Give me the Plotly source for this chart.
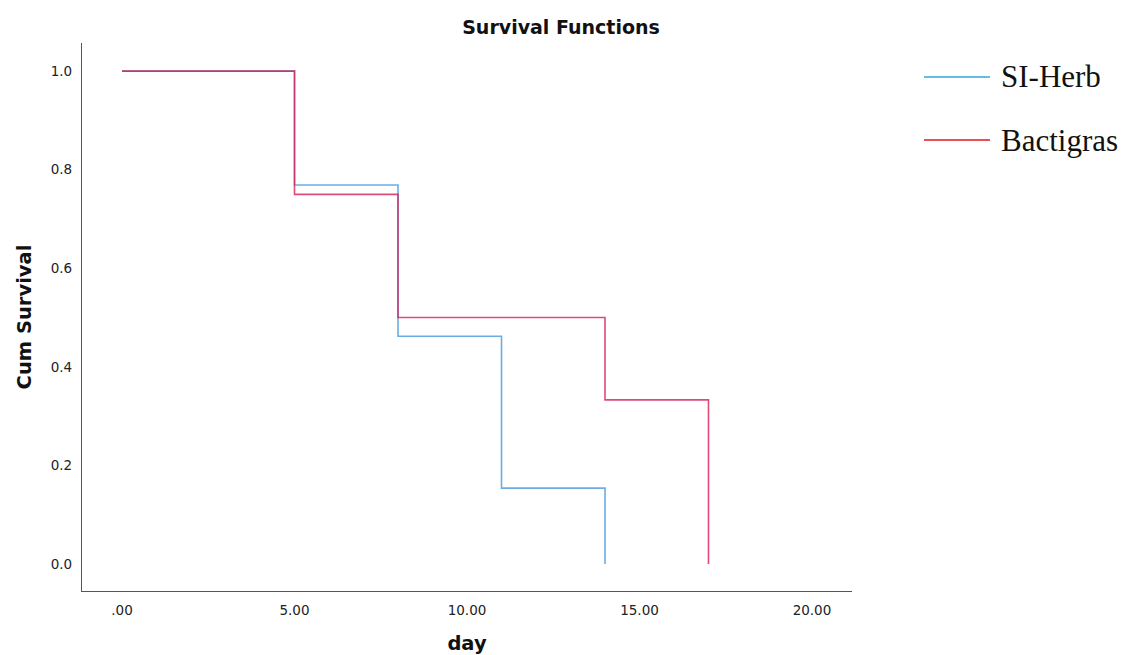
import plotly.graph_objects as go

# Data
herb_days = [0, 5, 8, 11, 14]
herb_surv = [1.0, 0.769, 0.462, 0.154, 0.0]
bact_days = [0, 5, 8, 14, 17]
bact_surv = [1.0, 0.75, 0.5, 0.333, 0.0]
series_names = ["SI-Herb", "Bactigras"]
x_ticks = [0, 5, 10, 15, 20]
x_tick_text = [".00", "5.00", "10.00", "15.00", "20.00"]
y_ticks = [0, 0.2, 0.4, 0.6, 0.8, 1.0]
y_tick_text = ["0.0", "0.2", "0.4", "0.6", "0.8", "1.0"]

W, H = 1122, 655
L, R, T, B = 82, 270, 43, 64

fig = go.Figure()
fig.add_trace(go.Scatter(x=herb_days, y=herb_surv, mode="lines", line_shape="hv",
                         line=dict(color="#5AA5E2", width=1.6), opacity=0.9,
                         name=series_names[0], showlegend=False))
fig.add_trace(go.Scatter(x=bact_days, y=bact_surv, mode="lines", line_shape="hv",
                         line=dict(color="#D81E55", width=1.6), opacity=0.8,
                         name=series_names[1], showlegend=False))

tick_font = dict(family="DejaVu Sans", size=13.5, color="#222")
axis_title_font = dict(family="DejaVu Sans", size=19.5, color="#111")
fig.update_xaxes(range=[-1.16, 21.16], tickvals=x_ticks, ticktext=x_tick_text,
                 showgrid=False, zeroline=False, showline=True, linecolor="#555",
                 linewidth=1.3, ticks="", tickfont=tick_font, ticklabelstandoff=7,
                 automargin=False,
                 title=dict(text="<b>day</b>", font=axis_title_font, standoff=24))
fig.update_yaxes(range=[-0.0547, 1.057], tickvals=y_ticks, ticktext=y_tick_text,
                 showgrid=False, zeroline=False, showline=True, linecolor="#555",
                 linewidth=1.3, ticks="", tickfont=tick_font, ticklabelstandoff=6,
                 automargin=False,
                 title=dict(text="<b>Cum Survival</b>", font=axis_title_font, standoff=13))

# Legend drawn as line shapes + text (matches the pasted legend of the reference)
legend_items = [(series_names[0], "#30A8D6", 77), (series_names[1], "#E3141E", 140)]
pw, ph = W - L - R, H - T - B
for name, col, ypx in legend_items:
    yd = (H - B - ypx) / ph
    fig.add_shape(type="line", xref="x domain", yref="y domain",
                  x0=(924 - L) / pw, x1=(990 - L) / pw, y0=yd, y1=yd,
                  line=dict(color=col, width=1.6))
    fig.add_annotation(xref="x domain", yref="y domain",
                       x=(999 - L) / pw, y=yd, text=name, showarrow=False,
                       xanchor="left", yanchor="middle",
                       font=dict(family="Liberation Serif", size=31, color="#111"))

fig.update_layout(
    width=W, height=H,
    margin=dict(l=L, r=R, t=T, b=B),
    paper_bgcolor="white", plot_bgcolor="white",
    showlegend=False,
    title=dict(text="<b>Survival Functions</b>", x=0.5, xanchor="center",
               y=1 - 27 / H, yanchor="middle",
               font=dict(family="DejaVu Sans", size=19, color="#111")),
)

fig.write_html("out.html")
